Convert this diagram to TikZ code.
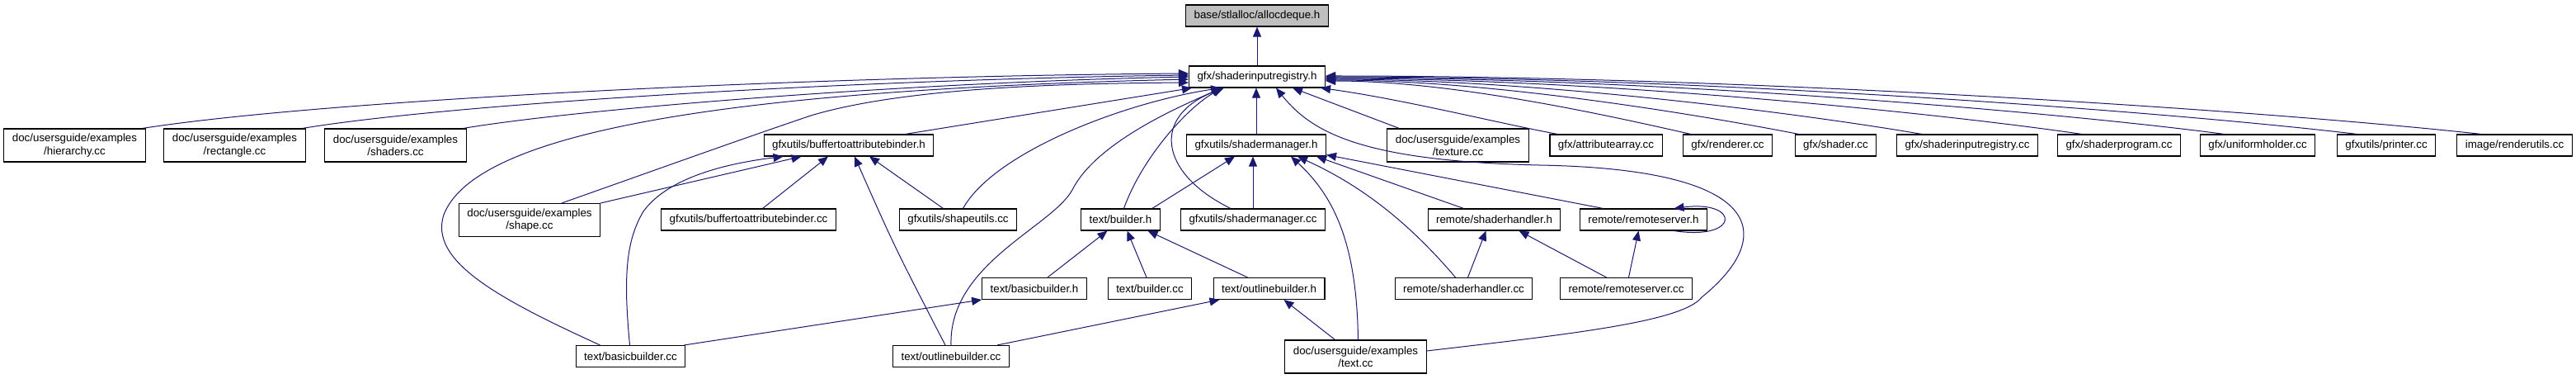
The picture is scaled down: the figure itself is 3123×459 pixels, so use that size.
\documentclass[tikz,border=0pt]{standalone}
\usepackage{fontspec}
\setmainfont{Liberation Sans}
\usetikzlibrary{arrows.meta,calc}
\definecolor{edgeblue}{HTML}{191970}
\definecolor{rootgray}{HTML}{BFBFBF}
\begin{document}
\begin{tikzpicture}[x=0.75pt,y=-0.75pt,
 nbox/.style={draw=black, line width=0.8pt, fill=white, text=black,
   font=\fontsize{10}{11.5}\selectfont, inner xsep=7.5pt, inner ysep=0pt,
   minimum height=19.5pt, align=center},
 nbox2/.style={nbox, minimum height=30pt},
 rootbox/.style={nbox, fill=rootgray},
 dep/.style={draw=edgeblue, line width=0.75pt, -{Triangle[length=9pt,width=7.5pt]}}]
\useasboundingbox (0,0) rectangle (3123,459);
% row A,B
\node[rootbox] (ad) at (1524,19) {base/stlalloc/allocdeque.h};
\node[nbox] (sir) at (1524,93) {gfx/shaderinputregistry.h};
% row C
\node[nbox2] (hier) at (90.5,176) {doc/usersguide/examples\\/hierarchy.cc};
\node[nbox2] (rect) at (284.5,176) {doc/usersguide/examples\\/rectangle.cc};
\node[nbox2] (shad) at (479.5,176) {doc/usersguide/examples\\/shaders.cc};
\node[nbox] (babh) at (1029,176) {gfxutils/buffertoattributebinder.h};
\node[nbox] (smh) at (1523,176) {gfxutils/shadermanager.h};
\node[nbox2] (texture) at (1767.5,176) {doc/usersguide/examples\\/texture.cc};
\node[nbox] (attr) at (1947,176) {gfx/attributearray.cc};
\node[nbox] (rend) at (2094.5,176) {gfx/renderer.cc};
\node[nbox] (shader) at (2225.5,176) {gfx/shader.cc};
\node[nbox] (sirc) at (2385,176) {gfx/shaderinputregistry.cc};
\node[nbox] (sprog) at (2569,176) {gfx/shaderprogram.cc};
\node[nbox] (unif) at (2737,176) {gfx/uniformholder.cc};
\node[nbox] (printer) at (2893,176) {gfxutils/printer.cc};
\node[nbox] (rutil) at (3048.5,176) {image/renderutils.cc};
% row D
\node[nbox2] (shape) at (642,266.5) {doc/usersguide/examples\\/shape.cc};
\node[nbox] (babcc) at (907.5,266) {gfxutils/buffertoattributebinder.cc};
\node[nbox] (sutil) at (1161.5,266) {gfxutils/shapeutils.cc};
\node[nbox] (bldh) at (1358.5,266) {text/builder.h};
\node[nbox] (smcc) at (1519,266) {gfxutils/shadermanager.cc};
\node[nbox] (shh) at (1811.5,266) {remote/shaderhandler.h};
\node[nbox] (rsh) at (1992.5,266) {remote/remoteserver.h};
% row E
\node[nbox] (basich) at (1254,349.5) {text/basicbuilder.h};
\node[nbox] (bldcc) at (1394,349.5) {text/builder.cc};
\node[nbox] (outh) at (1538.5,349.5) {text/outlinebuilder.h};
\node[nbox] (shcc) at (1774.5,349.5) {remote/shaderhandler.cc};
\node[nbox] (rscc) at (1971.5,349.5) {remote/remoteserver.cc};
% row F
\node[nbox] (basiccc) at (764.5,431.5) {text/basicbuilder.cc};
\node[nbox] (outcc) at (1153,431.5) {text/outlinebuilder.cc};
\node[nbox2] (textcc) at (1643.5,432) {doc/usersguide/examples\\/text.cc};

% edges into allocdeque
\draw[dep] (ad.south |- sir.north) -- (ad.south);
% edges into shaderinputregistry.h from the left
\draw[dep] ($(hier.north east)+(-4,0)$) .. controls (400,120) and (1000,92) .. ($(sir.west)+(0,-4)$);
\draw[dep] ($(rect.north east)+(-4,0)$) .. controls (550,125) and (1050,96) .. ($(sir.west)+(0,-2)$);
\draw[dep] ($(shad.north east)+(-4,0)$) .. controls (700,132) and (1100,100) .. (sir.west);
\draw[dep] ($(basiccc.north)+(-37,0)$) .. controls (600,360) and (520,315) .. (538,260) .. controls (575,165) and (850,110) .. ($(sir.west)+(0,3)$);
\draw[dep] ($(shape.north)+(39,0)$) .. controls (800,204) and (900,168) .. (983,140) .. controls (1100,105) and (1300,101) .. ($(sir.west)+(0,7)$);
\draw[dep] ($(babh.north east)+(-35,0)$) -- ($(sir.south west)+(4,0)$);
\draw[dep] ($(sutil.north)+(6,0)$) .. controls (1205,185) and (1360,125) .. ($(sir.south)+(-44,0)$);
\draw[dep] (outcc.north) .. controls (1150,320) and (1275,275) .. (1300,230) .. controls (1330,170) and (1440,125) .. ($(sir.south)+(-43,0)$);
\draw[dep] ($(bldh.north)+(4,0)$) .. controls (1385,190) and (1440,130) .. ($(sir.south)+(-42,0)$);
\draw[dep] ($(smcc.north)+(-27,0)$) .. controls (1405,210) and (1395,140) .. ($(sir.south)+(-40,0)$);
\draw[dep] (smh.north) -- (smh.north |- sir.south);
% edges into shaderinputregistry.h from the right
\draw[dep] ($(texture.north west)+(15,0)$) -- ($(sir.south)+(43,0)$);
\draw[dep] ($(attr.north west)+(10,0)$) .. controls (1820,150) and (1700,120) .. ($(sir.south east)+(-6,0)$);
\draw[dep] ($(rend.north west)+(10,0)$) .. controls (1963,143) and (1767,98) .. ($(sir.east)+(0,5)$);
\draw[dep] ($(shader.north west)+(5,0)$) .. controls (2065,140) and (1811,97) .. ($(sir.east)+(0,4)$);
\draw[dep] ($(sirc.north west)+(31,0)$) .. controls (2187,138) and (1865,96) .. ($(sir.east)+(0,3)$);
\draw[dep] ($(sprog.north west)+(30,0)$) .. controls (2343,136) and (1933,95) .. ($(sir.east)+(0,2)$);
\draw[dep] ($(unif.north west)+(30,0)$) .. controls (2480,134) and (1993,94) .. ($(sir.east)+(0,1)$);
\draw[dep] ($(printer.north west)+(25,0)$) .. controls (2608,133) and (2049,93) .. (sir.east);
\draw[dep] ($(rutil.north west)+(30,0)$) .. controls (2730,132) and (2102,92) .. ($(sir.east)+(0,-1)$);
\draw[dep] ($(textcc.east)+(0,-7)$) .. controls (1900,405) and (2040,390) .. (2063,360) .. controls (2150,290) and (2150,205) .. (1866,200) .. controls (1650,195) and (1590,160) .. ($(sir.south)+(23,0)$);
% edges into shadermanager.h
\draw[dep] ($(bldh.north east)+(-10,0)$) -- ($(smh.south)+(-26,0)$);
\draw[dep] (smcc.north) -- (smcc.north |- smh.south);
\draw[dep] ($(textcc.north)+(3,0)$) .. controls (1645,300) and (1620,240) .. ($(smh.south)+(42,0)$);
\draw[dep] ($(shcc.north)+(-10,0)$) .. controls (1700,260) and (1640,220) .. ($(smh.south)+(50,0)$);
\draw[dep] ($(shh.north)+(-37,0)$) -- ($(smh.south east)+(-12,0)$);
\draw[dep] ($(rsh.north)+(-49,0)$) -- ($(smh.south east)+(0,-2)$);
% remote
\draw[dep] ($(rsh.south)+(37,0)$) .. controls (2110,292) and (2110,242) .. ($(rsh.north)+(37,0)$);
\draw[dep] ($(shcc.north)+(5,0)$) -- ($(shh.south)+(-10,0)$);
\draw[dep] ($(rscc.north)+(-24,0)$) -- ($(shh.south)+(30,0)$);
\draw[dep] ($(rscc.north)+(3,0)$) -- ($(rsh.south)+(-6,0)$);
% text builders
\draw[dep] ($(basich.north)+(16,0)$) -- ($(bldh.south)+(-16,0)$);
\draw[dep] ($(bldcc.north)+(-4,0)$) -- ($(bldh.south)+(8,0)$);
\draw[dep] ($(outh.north)+(-26,0)$) -- ($(bldh.south)+(33,0)$);
\draw[dep] ($(basiccc.north east)+(-2,0)$) -- (basich.south west);
\draw[dep] ($(outcc.north east)+(-15,0)$) -- ($(outh.south west)+(8,0)$);
\draw[dep] ($(textcc.north)+(-25,0)$) -- ($(outh.south)+(18,0)$);
% buffertoattributebinder.h
\draw[dep] ($(babcc.north)+(17,0)$) -- ($(babh.south)+(-25,0)$);
\draw[dep] ($(outcc.north)+(-7,0)$) .. controls (1085,300) .. ($(babh.south)+(7,0)$);
\draw[dep] ($(sutil.north)+(-18,0)$) -- ($(babh.south)+(25,0)$);
\draw[dep] (shape.north east) -- ($(babh.south west)+(46,0)$);
\draw[dep] ($(basiccc.north)+(-1,0)$) .. controls (755,330) and (760,290) .. (780,256) .. controls (810,215) and (880,198) .. ($(babh.south west)+(24,0)$);
\end{tikzpicture}
\end{document}
